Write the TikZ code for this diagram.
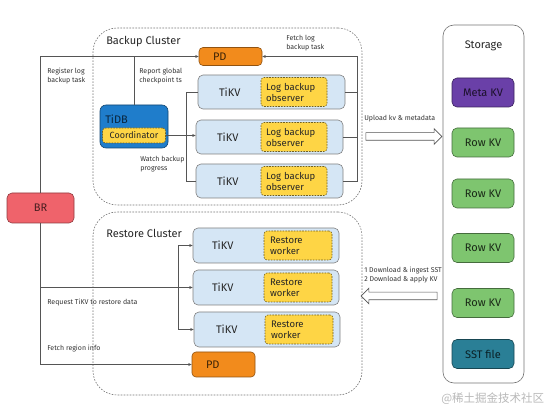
\documentclass[tikz,border=0pt]{standalone}
\usepackage{fontspec}
\setmainfont{Fira Sans}
\newfontfamily\cjkfont{Noto Sans CJK SC}
\usetikzlibrary{shapes.arrows, arrows.meta, positioning}
\definecolor{linegray}{HTML}{555555}
\definecolor{labelgray}{HTML}{333333}
\definecolor{brred}{HTML}{EF636B}
\definecolor{pdorange}{HTML}{F28B1C}
\definecolor{tikvblue}{HTML}{D5E6F5}
\definecolor{obsyellow}{HTML}{FED545}
\definecolor{tidbblue}{HTML}{1F7DCB}
\definecolor{metapurple}{HTML}{6A40A8}
\definecolor{rowgreen}{HTML}{7EC56F}
\definecolor{sstteal}{HTML}{2A7F96}
\tikzset{
    base/.style={draw, align=center, font=\fontsize{11}{13}\selectfont, text=black!85, inner sep=0pt, rounded corners=4pt},
    cluster/.style={draw=black!55, dash pattern=on 1.6pt off 1.4pt, rounded corners=24pt, minimum width=269pt},
    store/.style={draw=black!55, rounded corners=11pt, minimum width=81pt, minimum height=358pt},
    title/.style={font=\fontsize{11}{13}\selectfont, text=black!85, inner sep=0pt},
    brbox/.style={base, fill=brred, draw=brred!60!black, text=brred!30!black, minimum width=67pt, minimum height=30pt, rounded corners=5pt},
    pdbox/.style={base, fill=pdorange, draw=pdorange!60!black, text=pdorange!25!black, align=left, text width=35pt, inner xsep=14pt, minimum height=18pt},
    tikvbox/.style={base, fill=tikvblue, draw=black!50, minimum width=147pt, minimum height=34pt, rounded corners=5pt},
    boxtext/.style={font=\fontsize{11}{13}\selectfont, text=black!85, inner sep=0pt},
    observer/.style={base, fill=obsyellow, draw=obsyellow!45!black, dash pattern=on 1.6pt off 1.2pt, font=\fontsize{9.5}{11}\selectfont, align=left, text width=56pt, inner xsep=5pt, minimum height=29pt, rounded corners=3pt},
    tidbbox/.style={base, fill=tidbblue, draw=tidbblue!55!black, minimum width=68pt, minimum height=43pt, rounded corners=6pt},
    coordbox/.style={base, fill=obsyellow, draw=obsyellow!45!black, dash pattern=on 1.6pt off 1.2pt, font=\fontsize{9}{11}\selectfont, minimum width=63pt, minimum height=15pt, rounded corners=3pt},
    kvbox/.style={base, minimum width=62pt, minimum height=29pt, rounded corners=5pt},
    hollow/.style={draw=linegray, fill=white, single arrow, single arrow head extend=4pt, minimum width=15pt, minimum height=76pt, inner xsep=0pt, inner ysep=3.5pt},
    lbl/.style={font=\fontsize{7}{8.5}\selectfont, text=labelgray, align=left, inner sep=0pt, anchor=north west},
    line/.style={draw=linegray},
    arrow/.style={line, -{Stealth[length=3.5pt, width=3pt]}}
}

\begin{document}
\begin{tikzpicture}[x=1pt, y=-1pt, line width=0.6pt]
    \useasboundingbox (0,0) rectangle (558,417);

    % clusters and storage
    \node (backup) [cluster, minimum height=177pt] at (227.5,116.5) {};
    \node (restore) [cluster, minimum height=183pt] at (227.5,303.5) {};
    \node (storage) [store] at (483.5,204) {};
    \node (backuptitle) [title, anchor=west] at (106,42) {Backup Cluster};
    \node (restoretitle) [title, anchor=west] at (106,233) {Restore Cluster};
    \node (storagetitle) [title] at (483.5,46) {Storage};

    \node (br) [brbox] at (40.5,208) {BR};

    % backup cluster
    \node (pdb) [pdbox] at (230.5,56.5) {PD};
    \node (bk1) [tikvbox] at (271.5,92) {};
    \node (bk2) [tikvbox] at (269.5,137) {};
    \node (bk3) [tikvbox] at (269.5,181) {};
    \node (bk1text) [boxtext] at ([xshift=32pt]bk1.west) {TiKV};
    \node (bk2text) [boxtext] at ([xshift=32pt]bk2.west) {TiKV};
    \node (bk3text) [boxtext] at ([xshift=32pt]bk3.west) {TiKV};
    \node (ob1) [observer, left=18pt of bk1.east] {Log backup\\observer};
    \node (ob2) [observer, left=16pt of bk2.east] {Log backup\\observer};
    \node (ob3) [observer, left=16pt of bk3.east] {Log backup\\observer};

    \node (tidb) [tidbbox] at (134,126.5) {};
    \node (tidbtext) [boxtext, anchor=west, text=tidbblue!30!black] at (105,119.5) {TiDB};
    \node (coord) [coordbox] at (134,135.5) {Coordinator};

    % restore cluster
    \node (rs1) [tikvbox, minimum width=146pt, minimum height=35pt] at (266,245.5) {};
    \node (rs2) [tikvbox, minimum width=146pt, minimum height=35pt] at (266,287.5) {};
    \node (rs3) [tikvbox, minimum width=146pt, minimum height=35pt] at (267,329.5) {};
    \node (rs1text) [boxtext] at ([xshift=30pt]rs1.west) {TiKV};
    \node (rs2text) [boxtext] at ([xshift=30pt]rs2.west) {TiKV};
    \node (rs3text) [boxtext] at ([xshift=33pt]rs3.west) {TiKV};
    \node (wk1) [observer, text width=56pt, inner xsep=6pt, left=7pt of rs1.east] {Restore\\worker};
    \node (wk2) [observer, text width=56pt, inner xsep=6pt, left=7pt of rs2.east] {Restore\\worker};
    \node (wk3) [observer, text width=56pt, inner xsep=6pt, left=7pt of rs3.east] {Restore\\worker};
    \node (pdr) [pdbox, minimum height=25pt] at (223.5,364.5) {PD};

    % storage
    \node (meta) [kvbox, fill=metapurple, draw=metapurple!55!black, text=metapurple!25!black] at (483,92.5) {Meta KV};
    \node (row1) [kvbox, fill=rowgreen, draw=rowgreen!55!black, text=rowgreen!20!black] at (483,142.5) {Row KV};
    \node (row2) [kvbox, fill=rowgreen, draw=rowgreen!55!black, text=rowgreen!20!black] at (483,193.5) {Row KV};
    \node (row3) [kvbox, fill=rowgreen, draw=rowgreen!55!black, text=rowgreen!20!black] at (483,248) {Row KV};
    \node (row4) [kvbox, fill=rowgreen, draw=rowgreen!55!black, text=rowgreen!20!black] at (483,303) {Row KV};
    \node (sst) [kvbox, fill=sstteal, draw=sstteal!55!black, text=sstteal!25!black] at (483,354) {SST file};

    % data flow to and from storage
    \node (upload) [hollow] at (402,136.5) {};
    \node (download) [hollow, shape border rotate=180] at (401,296) {};

    % backup connectors
    \coordinate (wbus) at (186,0);
    \coordinate (ebus) at (357,0);
    \draw [arrow] (br.north) |- (pdb.west);
    \draw [line] (tidb.north) -- (tidb.north |- pdb.west);
    \draw [arrow] (coord.east) -- (coord.east -| bk2.west);
    \draw [line] (bk1.west) -- (bk1.west -| wbus) -- (bk3.west -| wbus) -- (bk3.west);
    \draw [line] (bk1.east) -- (bk1.east -| ebus);
    \draw [line] (bk2.east) -- (bk2.east -| ebus);
    \draw [arrow] (bk3.east) -- (bk3.east -| ebus) |- (pdb.east);

    % restore connectors
    \coordinate (rbus) at (178,0);
    \draw [arrow] (br.south) |- (pdr.west);
    \draw [arrow] (br.south |- rs2.west) -- (rs2.west);
    \draw [arrow] (rs2.west -| rbus) |- (rs1.west);
    \draw [arrow] (rs2.west -| rbus) |- (rs3.west);

    % labels
    \node (reglbl) [lbl] at (47,68) {Register log\\backup task};
    \node (reportlbl) [lbl] at (139,68) {Report global\\checkpoint ts};
    \node (fetchlbl) [lbl] at (286,35) {Fetch log\\backup task};
    \node (watchlbl) [lbl] at (140,156) {Watch backup\\progress};
    \node (uploadlbl) [lbl, anchor=west] at (364,119) {Upload kv \& metadata};
    \node (downlbl) [lbl] at (364,267) {1 Download \& ingest SST\\2 Download \& apply KV};
    \node (requestlbl) [lbl, anchor=west] at (47,303) {Request TiKV to restore data};
    \node (regionlbl) [lbl, anchor=west] at (47,349) {Fetch region info};

    \node (mark) [font=\cjkfont\fontsize{11.5}{13}\selectfont, text=black!28, anchor=west, inner sep=0pt] at (441,399) {@稀土掘金技术社区};
\end{tikzpicture}
\end{document}
